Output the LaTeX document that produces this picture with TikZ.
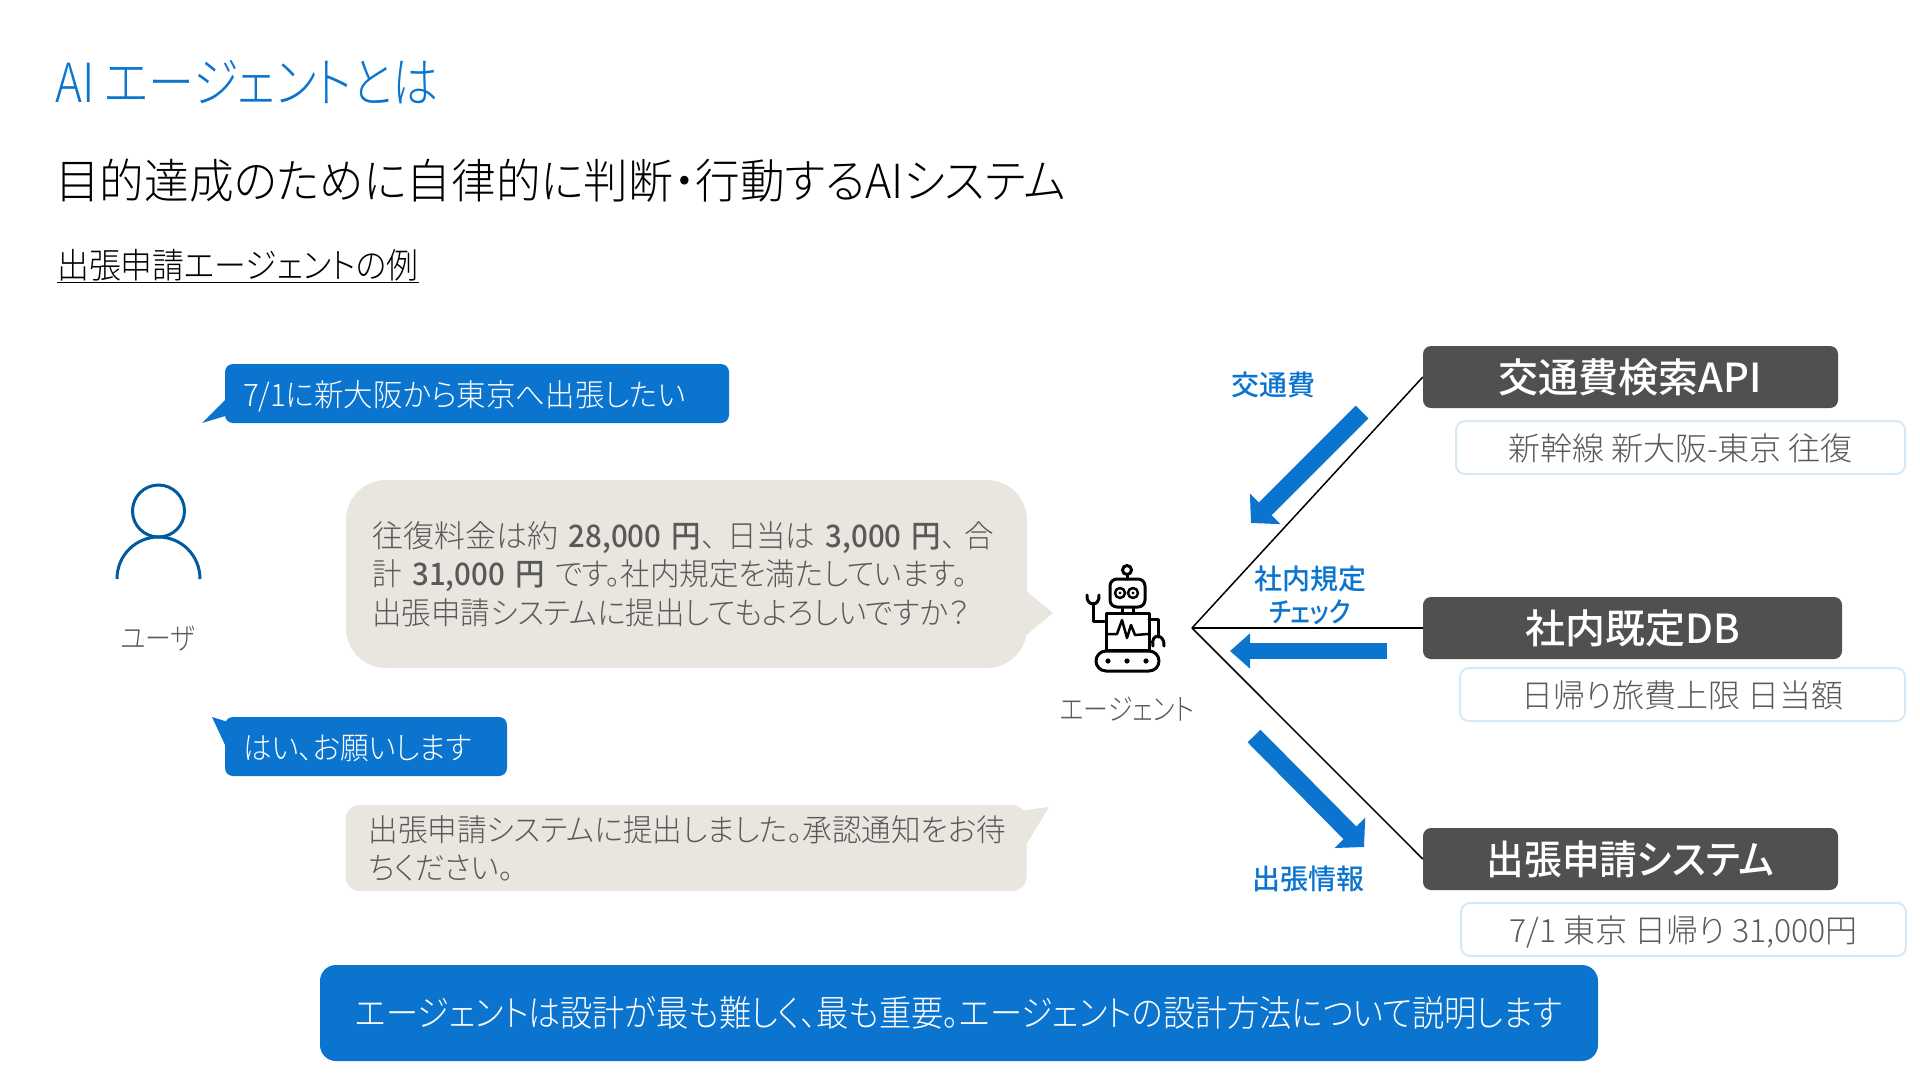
\documentclass[tikz,border=0pt]{standalone}
\usepackage{fontspec}
\setmainfont[RawFeature=+palt,UprightFont=* Light,BoldFont=* Medium]{Noto Sans CJK JP}
\usepackage{tikz}
\usetikzlibrary{positioning,arrows.meta}
\definecolor{msblue}{HTML}{0A74CF}
\definecolor{beige}{HTML}{E9E6DF}
\definecolor{darkbox}{HTML}{505050}
\definecolor{greytext}{HTML}{595959}
\definecolor{palebdr}{HTML}{D5E8F6}
\definecolor{userblue}{HTML}{005A9E}
\newcommand{\fsize}[3]{\fontsize{#2}{#3}\selectfont\addfontfeature{FakeStretch=#1}}
\tikzset{
  heading/.style  = {anchor=west, inner sep=0pt},
  askbox/.style   = {fill=msblue, text=white, rounded corners=8pt, inner ysep=0pt, inner xsep=18pt, align=left, text height=29pt, text depth=4pt},
  answer/.style   = {fill=beige, text=greytext, inner sep=0pt, align=left},
  service/.style  = {fill=darkbox, text=white, rounded corners=8pt, inner sep=0pt},
  detail/.style   = {draw=palebdr, line width=2pt, fill=white, text=greytext, rounded corners=9pt, inner sep=0pt, text height=29pt, text depth=4pt, font=\fsize{1}{32}{38}},
  actor/.style    = {text=greytext, inner sep=0pt},
  flowtag/.style  = {text=msblue, inner sep=0pt, font=\bfseries\fsize{1}{28}{34}},
  link/.style     = {draw=black, line width=1.5pt},
  bigflow/.style  = {draw=msblue, line width=18pt, -{Triangle[length=20pt,width=42pt]}},
  robot/.style    = {draw=black, line width=3pt, line cap=round, line join=round}
}
\begin{document}
\begin{tikzpicture}[x=1pt,y=-1pt]
    \useasboundingbox (0,0) rectangle (1920,1080);

    \node [heading, text=msblue, font=\fsize{.85}{54}{60}] (title) at (55,82) {AI エージェントとは};
    \node [heading, text=black, font=\fsize{.95}{47}{54}] (subtitle) at (55,181) {目的達成のために自律的に判断・行動するAIシステム};
    \node [heading, text=black, font=\fsize{.91}{35}{40}] (example) at (57,266) {\underline{出張申請エージェントの例}};

    % user side
    \draw [userblue, line width=3pt] (158.5,511) circle [radius=26];
    \draw [userblue, line width=3pt] (117,579) .. controls (117,555) and (136,537) .. (158.5,537) .. controls (181,537) and (200,555) .. (200,579);
    \node [actor, font=\fsize{.855}{30}{36}] (user) at (158,639) {ユーザ};

    % chat bubbles
    \fill [msblue] (226,399) -- (202,423) -- (232,414) -- cycle;
    \node [askbox, minimum height=59pt, text width=468pt, font=\fsize{.95}{31}{38}] (ask1) at (477,393.5) {7/1に新大阪から東京へ出張したい};
    \fill [beige] (1025,590) -- (1053,613) -- (1025,636) -- cycle;
    \node [answer, rounded corners=40pt, minimum width=681pt, minimum height=188pt, text width=628pt, font=\fsize{.95}{31}{38.5}] (answer1) at (686.5,574)
        {{\addfontfeature{FakeStretch=1}往復料金は約} \textbf{28,000 円}、\hspace{11pt}日当は \textbf{3,000 円}、\hspace{8pt}合\\
         計 \textbf{31,000 円} です。社内規定を満たしています。\\
         出張申請システムに提出してもよろしいですか？};
    \fill [msblue] (212,717) -- (228,722) -- (226,747) -- cycle;
    \node [askbox, minimum height=59pt, text width=246pt, font=\fsize{.92}{31}{38}] (ask2) at (366,746.5) {はい、お願いします};
    \fill [beige] (1049,807) -- (1010,812) -- (1026,845) -- cycle;
    \node [answer, rounded corners=14pt, minimum width=681pt, minimum height=86pt, text width=635pt, font=\fsize{.955}{31}{38}] (answer2) at (686,848)
        {出張申請システムに提出しました。承認通知をお待\\ちください。};

    % agent icon
    \draw [robot] (1127,570) circle [radius=4.5];
    \draw [robot] (1127,574.5) -- (1127,579);
    \draw [robot, rounded corners=7pt] (1110,579) rectangle (1145,607);
    \draw [robot, line width=2.5pt] (1120,593) circle [radius=5] (1133,593) circle [radius=5];
    \fill (1120,593) circle [radius=1.7] (1133,593) circle [radius=1.7];
    \draw [robot] (1122,607) -- (1122,613) (1133,607) -- (1133,613);
    \draw [robot] (1106,613) rectangle (1149,650);
    \draw [robot, line width=2.5pt, line cap=butt] (1107,634) -- (1117,634) -- (1122,620) -- (1127,638) -- (1131,625) -- (1135,635) -- (1148,634);
    \draw [robot] (1106,621) -- (1093,621) -- (1093,603);
    \draw [robot] (1087,595) .. controls (1086,607) and (1100,607) .. (1099,595);
    \draw [robot] (1149,619) -- (1158,619) -- (1158,637);
    \draw [robot] (1153,646) .. controls (1150,633) and (1165,633) .. (1164,646);
    \draw [robot, rounded corners=10pt] (1096,651) rectangle (1159,671);
    \fill (1108,661) circle [radius=2.6] (1127,661) circle [radius=2.6] (1146,661) circle [radius=2.6];
    \node [actor, font=\fsize{.83}{30}{36}] (agent) at (1127,709) {エージェント};

    % services
    \node [service, minimum width=415pt, minimum height=62pt, font=\bfseries\fsize{1}{40}{46}] (fare) at (1630.5,377) {交通費検索API};
    \node [service, minimum width=419pt, minimum height=62pt, font=\bfseries\fsize{1}{40}{46}] (rules) at (1632.5,628) {社内既定DB};
    \node [service, minimum width=415pt, minimum height=62pt, font=\bfseries\fsize{.94}{40}{46}] (apply) at (1630.5,859) {出張申請システム};
    \node [detail, minimum width=449pt, minimum height=53pt] (faredetail) at (1680.5,447.5) {新幹線 新大阪-東京 往復};
    \node [detail, minimum width=445pt, minimum height=53pt] (rulesdetail) at (1682.5,694.5) {日帰り旅費上限 日当額};
    \node [detail, minimum width=445pt, minimum height=53pt] (applydetail) at (1683.5,929.5) {7/1 東京 日帰り 31,000円};

    \coordinate (hub) at (1192,628);
    \draw [link] (hub) -- (fare.west);
    \draw [link] (hub) -- (rules.west);
    \draw [link] (hub) -- (apply.west);

    \coordinate (farefrom) at (1362,412);
    \coordinate (fareto) at (1251,523);
    \coordinate (rulesfrom) at (1387,651);
    \coordinate (rulesto) at (1230,651);
    \coordinate (applyfrom) at (1254,736);
    \coordinate (applyto) at (1364,847);
    \draw [bigflow] (farefrom) -- (fareto);
    \draw [bigflow, line width=16pt, -{Triangle[length=20pt,width=34pt]}] (rulesfrom) -- (rulesto);
    \draw [bigflow] (applyfrom) -- (applyto);

    \node [flowtag] (faretag) at (1273,385) {交通費};
    \node [flowtag] (rulestag) at (1310,579) {社内規定};
    \node [flowtag, font=\bfseries\fsize{.86}{28}{34}] (rulestag2) at (1310,612) {チェック};
    \node [flowtag] (applytag) at (1308,879) {出張情報};

    \node [fill=msblue, text=white, rounded corners=16pt, inner sep=0pt, minimum width=1278pt, minimum height=96pt, font=\fsize{.893}{36}{42}] (summary) at (959,1013)
        {エージェントは設計が最も難しく、最も重要。エージェントの設計方法について説明します};
\end{tikzpicture}
\end{document}
